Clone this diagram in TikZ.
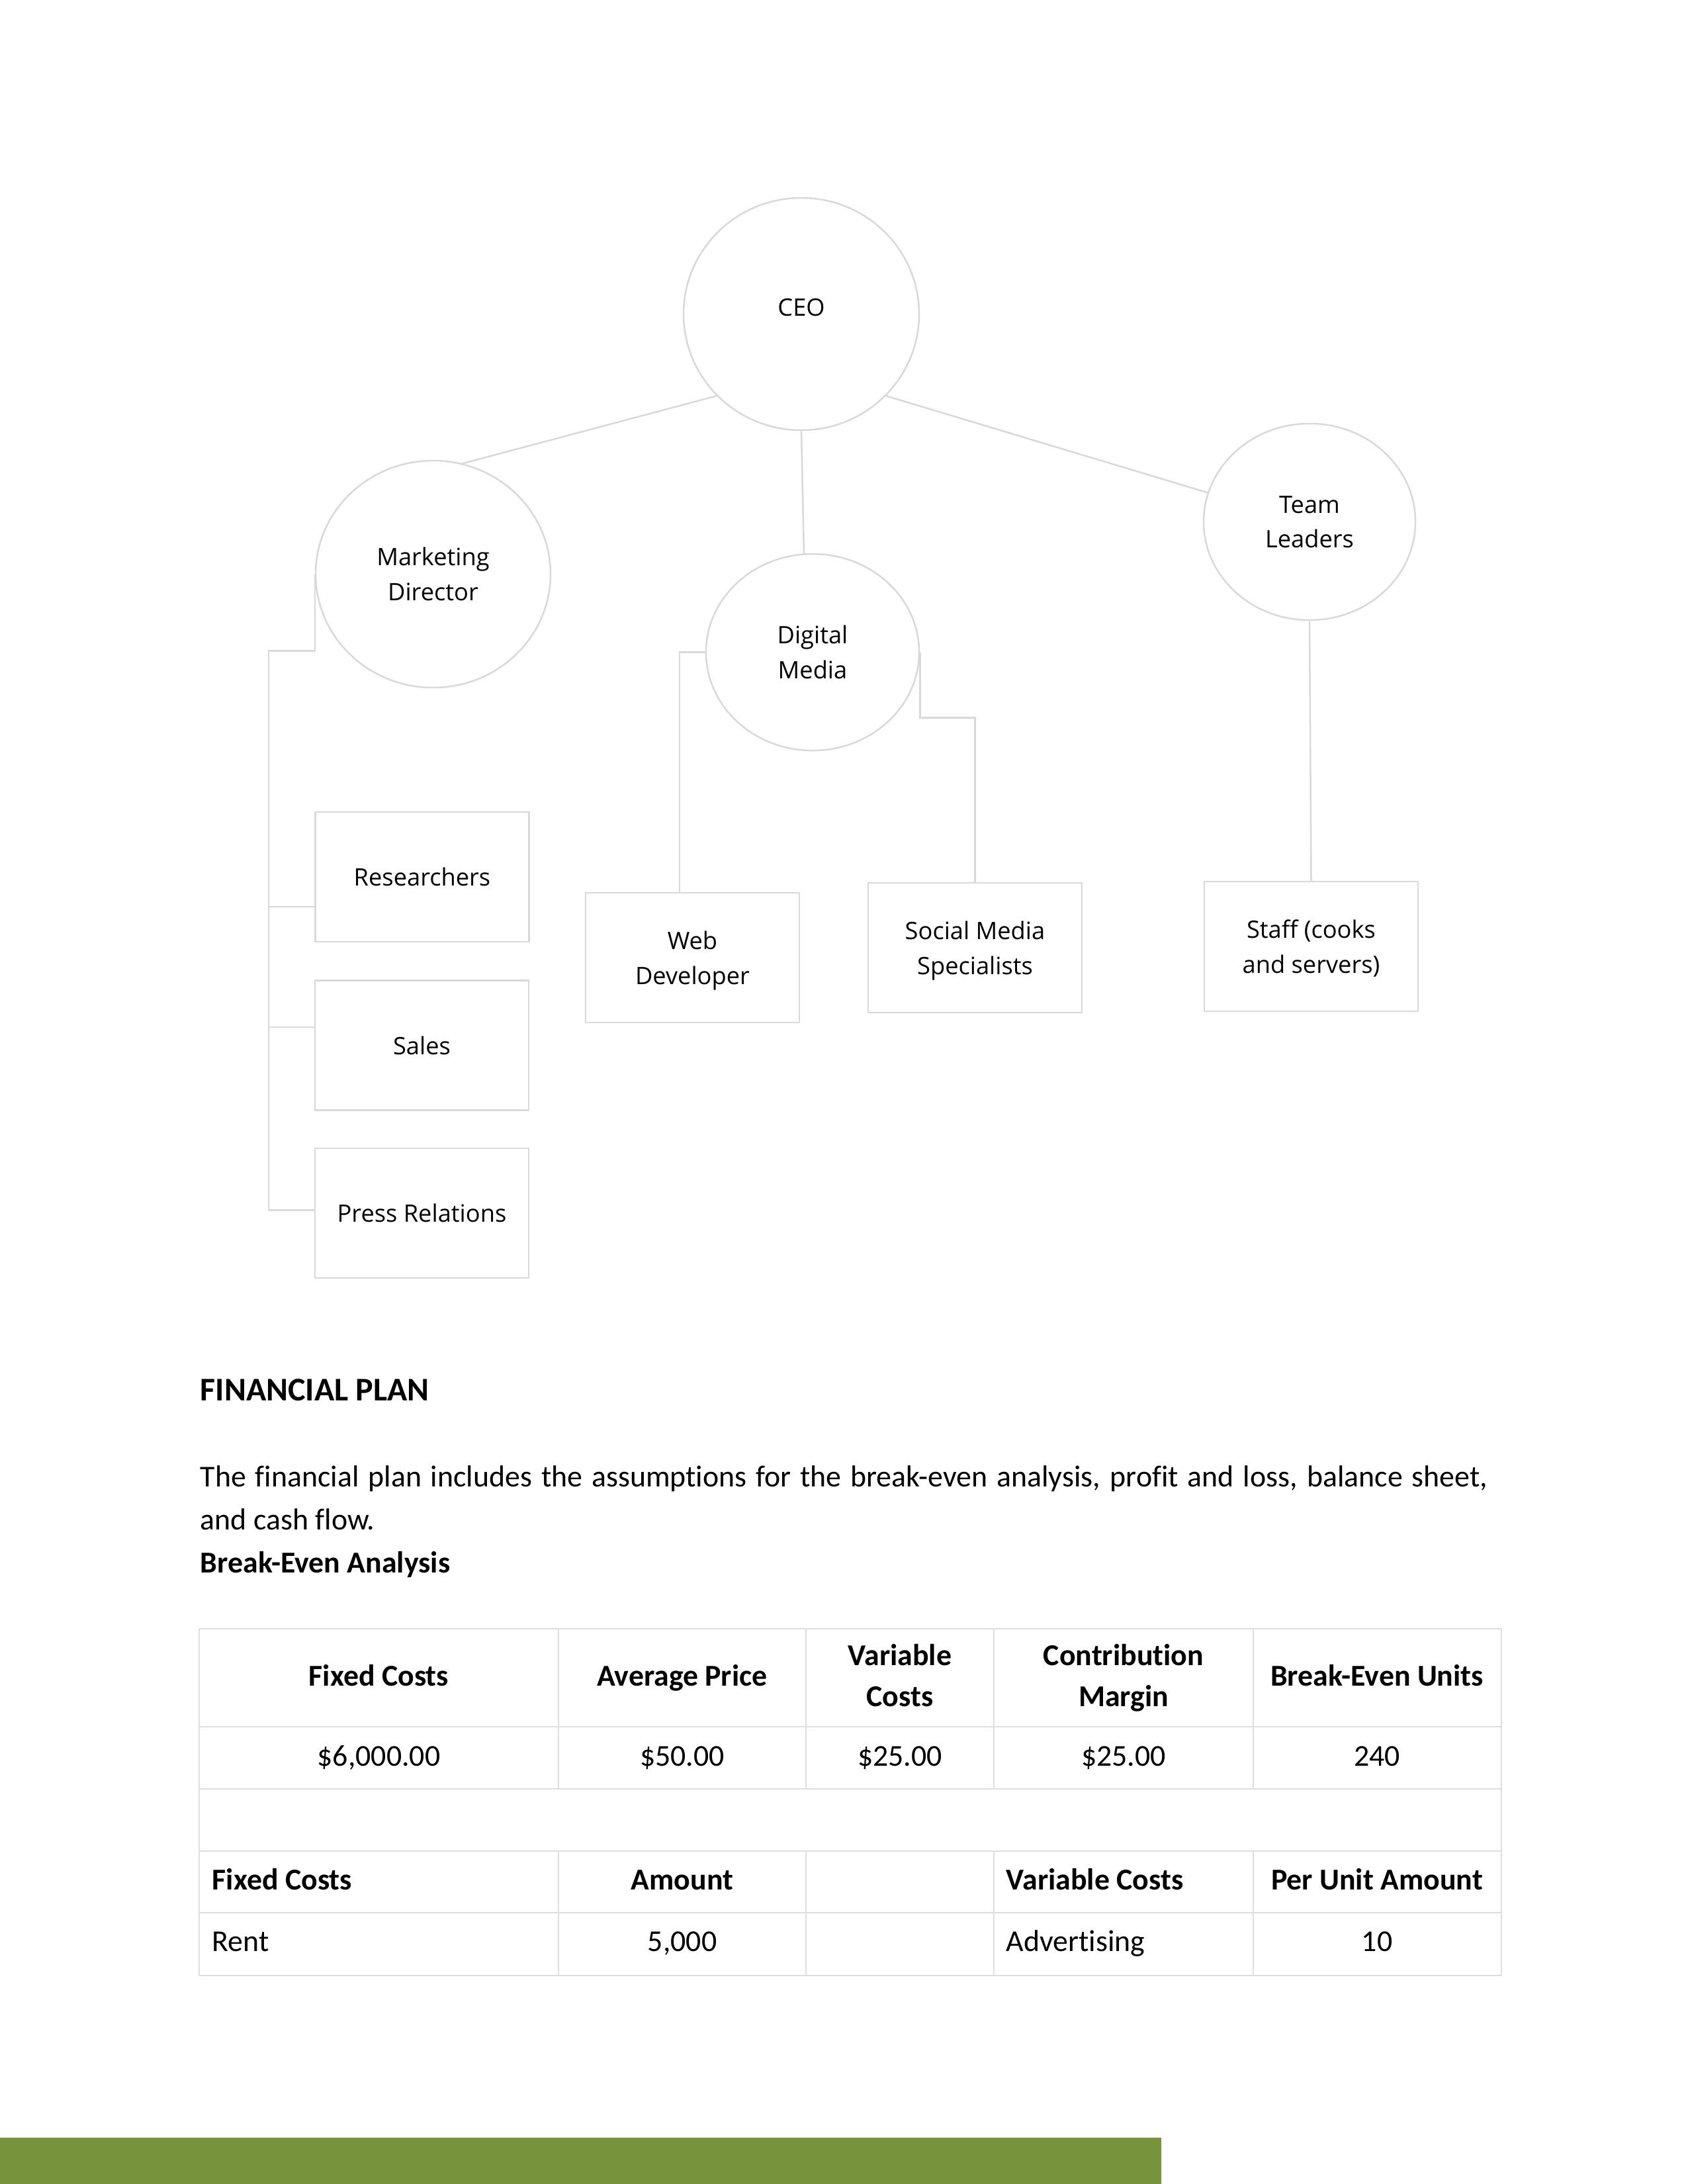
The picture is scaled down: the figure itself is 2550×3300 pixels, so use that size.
\documentclass[tikz,border=0pt]{standalone}
\usepackage{fontspec}
\setmainfont{Carlito}[Ligatures={NoCommon}]
\newfontfamily\orgfont{Open Sans}
\usetikzlibrary{shapes.geometric}
\definecolor{linegray}{HTML}{D9D9D9}
\definecolor{tablegray}{HTML}{DEDEDE}
\definecolor{bargreen}{HTML}{77933C}
\newcommand{\twoline}[2]{\raisebox{-0.8pt}[\height][\depth]{\begin{tabular}{@{}c@{}}#1\\#2\end{tabular}}}
\begin{document}
\begin{tikzpicture}[x=0.24pt,y=-0.24pt,
  orgline/.style={draw=linegray,line width=0.6pt},
  orgtext/.style={align=center,font=\orgfont\fontsize{8.7}{12.6}\selectfont},
  oval/.style={ellipse,draw=linegray,line width=0.6pt,inner sep=0pt,orgtext},
  rolebox/.style={rectangle,draw=linegray,line width=0.6pt,inner sep=0pt,orgtext,
    minimum width={323*0.24pt},minimum height={196*0.24pt}},
  tline/.style={draw=tablegray,line width=0.5pt},
  cell/.style={anchor=base,inner sep=0pt,font=\fontsize{11}{15}\selectfont},
  hcell/.style={anchor=base,inner sep=0pt,font=\bfseries\fontsize{11}{15}\selectfont},
  bodytext/.style={anchor=base west,inner sep=0pt,font=\fontsize{11}{13}\selectfont}]
\useasboundingbox (0,0) rectangle (2550,3300);
\fill[white] (0,0) rectangle (2550,3300);

% ---------- org chart ----------
\node[oval,minimum width={356*0.24pt},minimum height={351*0.24pt}] (ceo) at (1211,474.5) {\raisebox{2.5pt}[\height][\depth]{CEO}};
\node[oval,minimum width={355*0.24pt},minimum height={343*0.24pt}] (md) at (654.5,867.5) {Marketing\\Director};
\node[oval,minimum width={322*0.24pt},minimum height={297*0.24pt}] (dm) at (1228,985.5) {Digital\\Media};
\node[oval,minimum width={320*0.24pt},minimum height={297*0.24pt}] (tl) at (1979,788.5) {Team\\Leaders};

\node[rolebox] (res) at (638,1325) {Researchers};
\node[rolebox] (sales) at (637.5,1579.5) {Sales};
\node[rolebox] (press) at (637.5,1833) {Press Relations};
\node[rolebox] (web) at (1046.5,1447) {\twoline{Web}{Developer}};
\node[rolebox] (sm) at (1473.5,1432) {\twoline{Social Media}{Specialists}};
\node[rolebox] (staff) at (1981.5,1430) {\twoline{Staff (cooks}{and servers)}};

\draw[orgline] (ceo.224) -- (md.75);
\draw[orgline] (ceo.south) -- (dm.95);
\draw[orgline] (ceo.-44) -- (tl.164);
\draw[orgline] (tl.south) -- (staff.north);
\draw[orgline] (dm.west) -- ++(-39,0) coordinate (wj) -- (wj |- web.north);
\draw[orgline] (dm.east) -- ++(0,99) -| (sm.north);
\draw[orgline] (md.west) -- ++(0,116) -- ++(-70,0) coordinate (mj) -- ++(0,845);
\coordinate (rj) at (407,1370);
\coordinate (sj) at (407,1552);
\coordinate (pj) at (407,1828.5);
\draw[orgline] (rj) -- (rj -| res.west);
\draw[orgline] (sj) -- (sj -| sales.west);
\draw[orgline] (pj) -- (pj -| press.west);

% ---------- financial plan text ----------
\node[anchor=base west,inner sep=0pt,font=\bfseries\fontsize{12}{14}\selectfont] (fphead) at (302,2116) {FINANCIAL PLAN};
\node[bodytext] (para1) at (302,2246) {\makebox[467pt][s]{The financial plan includes the assumptions for the break-even analysis, profit and loss, balance sheet,}};
\node[bodytext] (para2) at (302,2311) {and cash flow.};
\node[bodytext,font=\bfseries\fontsize{11}{13}\selectfont] (behead) at (302,2376) {Break-Even Analysis};

% ---------- table ----------
\foreach \yy in {2461,2609,2703,2797,2890,2985}
  \draw[tline] (301,\yy) -- (2269,\yy);
\draw[tline] (301,2461) -- (301,2985);
\draw[tline] (2269,2461) -- (2269,2985);
\foreach \xx in {844,1218,1502,1894} {
  \draw[tline] (\xx,2461) -- (\xx,2703);
  \draw[tline] (\xx,2797) -- (\xx,2985);
}

\node[hcell] (h1) at (572.5,2547) {Fixed Costs};
\node[hcell] (h2) at (1031,2547) {Average Price};
\node[hcell] (h3a) at (1360,2516) {Variable};
\node[hcell] (h3b) at (1360,2578.5) {Costs};
\node[hcell] (h4a) at (1698,2516) {Contribution};
\node[hcell] (h4b) at (1698,2578.5) {Margin};
\node[hcell] (h5) at (2081,2547) {Break-Even Units};

\node[cell] (d1) at (572.5,2668) {\$6,000.00};
\node[cell] (d2) at (1031,2668) {\$50.00};
\node[cell] (d3) at (1360,2668) {\$25.00};
\node[cell] (d4) at (1698,2668) {\$25.00};
\node[cell] (d5) at (2081,2668) {240};

\node[hcell,anchor=base west] (f1) at (320,2855) {Fixed Costs};
\node[hcell] (f2) at (1031,2855) {Amount};
\node[hcell,anchor=base west] (f4) at (1520,2855) {Variable Costs};
\node[hcell] (f5) at (2081,2855) {Per Unit Amount};

\node[cell,anchor=base west] (g1) at (320,2948) {Rent};
\node[cell] (g2) at (1031,2948) {5,000};
\node[cell,anchor=base west] (g4) at (1520,2948) {Advertising};
\node[cell] (g5) at (2081,2948) {10};

% ---------- footer bar ----------
\fill[bargreen] (0,3230) rectangle (1755,3300);
\end{tikzpicture}
\end{document}
